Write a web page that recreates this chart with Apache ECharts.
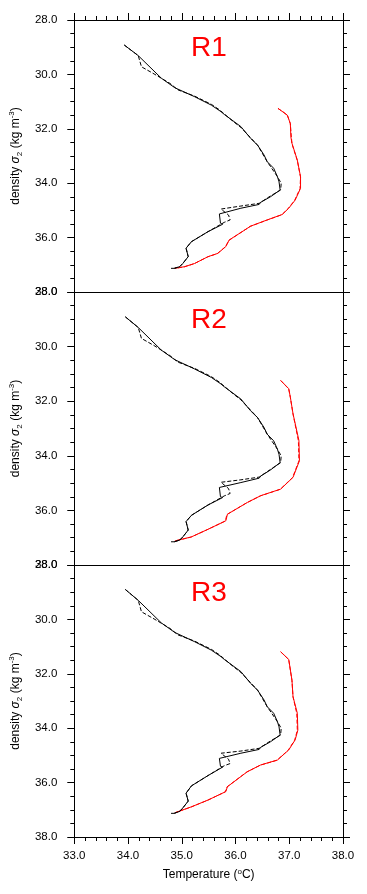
<!DOCTYPE html>
<html><head><meta charset="utf-8">
<script src="https://cdn.jsdelivr.net/npm/echarts@6/dist/echarts.min.js"></script>
<style>html,body{margin:0;padding:0;background:#fff}#c{width:367px;height:894px}</style>
</head><body><div id="c"></div>
<script>
// ---- data: [temperature (degC), density sigma2] ----
const regionNames = ['R1', 'R2', 'R3'];
const xTicks = [33, 34, 35, 36, 37, 38];
const yTicks = [28, 30, 32, 34, 36, 38];

const R1_black = [[33.93,28.92],[34.19,29.31],[34.62,30.14],[34.87,30.49],[35.24,30.82],[35.55,31.13],[35.73,31.37],[35.79,31.47],[36.10,31.92],[36.28,32.35],[36.41,32.60],[36.53,32.96],[36.59,33.21],[36.71,33.45],[36.78,33.76],[36.81,33.95],[36.83,34.25],[36.65,34.50],[36.47,34.70],[36.44,34.78],[36.10,34.92],[35.70,35.13],[35.72,35.47],[35.76,35.51],[35.49,35.78],[35.18,36.15],[35.08,36.39],[35.12,36.70],[35.02,36.95],[34.96,37.07],[34.86,37.13],[34.80,37.13]];
const R1_blackDash = [[33.93,28.92],[34.19,29.31],[34.25,29.72],[34.50,30.00],[34.78,30.33],[34.93,30.57],[35.24,30.80],[35.55,31.10],[35.70,31.30],[35.95,31.72],[36.10,31.95],[36.41,32.60],[36.59,33.21],[36.78,33.76],[36.85,34.00],[36.84,34.25],[36.65,34.47],[36.44,34.74],[36.10,34.84],[35.73,34.95],[35.87,35.17],[35.90,35.35],[35.79,35.44],[35.76,35.51],[35.49,35.78],[35.18,36.15],[35.08,36.39],[35.12,36.70],[35.02,36.95],[34.96,37.07],[34.86,37.13]];
const R1_red = [[36.79,31.25],[36.96,31.49],[37.02,31.80],[37.03,32.30],[37.05,32.53],[37.15,33.15],[37.21,33.76],[37.21,34.19],[37.11,34.62],[36.99,34.92],[36.87,35.15],[36.59,35.35],[36.28,35.58],[36.22,35.66],[35.88,36.09],[35.82,36.33],[35.67,36.58],[35.49,36.70],[35.24,36.95],[35.05,37.07],[34.87,37.13]];
const R1_redDash = [[36.79,31.25],[36.90,31.40],[36.97,31.52],[37.02,31.82],[37.05,32.55],[37.15,33.17],[37.21,33.78],[37.20,34.20],[37.10,34.63],[36.98,34.93],[36.86,35.16],[36.58,35.36],[36.27,35.59],[35.88,36.10],[35.81,36.34],[35.66,36.59],[35.48,36.71],[35.23,36.96],[35.04,37.08],[34.87,37.13]];

const R2_black = [[33.95,28.91],[34.19,29.30],[34.62,30.13],[34.87,30.48],[35.24,30.82],[35.55,31.13],[35.73,31.37],[35.79,31.47],[36.10,31.92],[36.28,32.35],[36.41,32.60],[36.53,32.96],[36.59,33.21],[36.71,33.45],[36.78,33.76],[36.81,33.95],[36.83,34.25],[36.65,34.52],[36.47,34.74],[36.44,34.82],[36.10,34.98],[35.70,35.16],[35.72,35.50],[35.76,35.53],[35.49,35.80],[35.18,36.18],[35.08,36.41],[35.12,36.72],[35.02,36.97],[34.96,37.09],[34.86,37.15],[34.80,37.15]];
const R2_blackDash = [[33.95,28.91],[34.19,29.30],[34.25,29.70],[34.50,29.98],[34.78,30.33],[34.93,30.57],[35.24,30.80],[35.55,31.10],[35.70,31.30],[35.95,31.72],[36.10,31.95],[36.41,32.60],[36.59,33.21],[36.78,33.76],[36.85,34.00],[36.84,34.25],[36.65,34.50],[36.44,34.78],[36.10,34.88],[35.73,34.97],[35.87,35.20],[35.90,35.38],[35.79,35.47],[35.76,35.53],[35.49,35.80],[35.18,36.18],[35.08,36.41],[35.12,36.72],[35.02,36.97],[34.96,37.09],[34.86,37.15]];
const R2_red = [[36.84,31.24],[36.99,31.54],[37.02,31.85],[37.07,32.46],[37.18,33.44],[37.19,34.18],[37.07,34.79],[36.84,35.22],[36.47,35.46],[36.22,35.71],[35.85,36.14],[35.82,36.38],[35.49,36.69],[35.18,36.97],[34.87,37.12]];
const R2_redDash = [[36.84,31.24],[36.99,31.55],[37.02,31.86],[37.07,32.47],[37.17,33.45],[37.18,34.19],[37.06,34.80],[36.83,35.23],[36.46,35.47],[36.21,35.72],[35.84,36.15],[35.81,36.39],[35.48,36.70],[35.17,36.98],[34.87,37.12]];

const R3_black = [[33.95,28.90],[34.19,29.30],[34.62,30.13],[34.87,30.48],[35.24,30.82],[35.55,31.13],[35.73,31.37],[35.79,31.47],[36.10,31.92],[36.28,32.35],[36.41,32.60],[36.53,32.96],[36.59,33.21],[36.71,33.45],[36.78,33.76],[36.81,33.95],[36.83,34.25],[36.65,34.50],[36.47,34.70],[36.44,34.78],[36.10,34.92],[35.70,35.11],[35.72,35.40],[35.76,35.43],[35.49,35.74],[35.18,36.12],[35.08,36.39],[35.12,36.68],[35.02,36.93],[34.96,37.06],[34.86,37.13],[34.80,37.13]];
const R3_blackDash = [[33.95,28.90],[34.19,29.30],[34.25,29.72],[34.50,30.00],[34.78,30.33],[34.93,30.57],[35.24,30.80],[35.55,31.10],[35.70,31.30],[35.95,31.72],[36.10,31.95],[36.41,32.60],[36.59,33.21],[36.78,33.76],[36.85,34.00],[36.84,34.25],[36.65,34.47],[36.44,34.74],[36.10,34.84],[35.73,34.92],[35.87,35.14],[35.90,35.30],[35.79,35.38],[35.76,35.43],[35.49,35.74],[35.18,36.12],[35.08,36.39],[35.12,36.68],[35.02,36.93],[34.96,37.06],[34.86,37.13]];
const R3_red = [[36.84,31.19],[36.99,31.47],[37.05,32.23],[37.07,32.84],[37.15,33.45],[37.16,34.07],[37.11,34.43],[36.99,34.80],[36.78,35.17],[36.47,35.35],[36.22,35.60],[35.85,36.15],[35.82,36.33],[35.49,36.64],[35.18,36.89],[34.87,37.11]];
const R3_redDash = [[36.84,31.19],[36.99,31.48],[37.05,32.24],[37.07,32.85],[37.14,33.46],[37.15,34.08],[37.10,34.44],[36.98,34.81],[36.77,35.18],[36.46,35.36],[36.21,35.61],[35.84,36.16],[35.81,36.34],[35.48,36.65],[35.17,36.90],[34.87,37.11]];

const regionData = [
  [R1_black, R1_blackDash, R1_red, R1_redDash],
  [R2_black, R2_blackDash, R2_red, R2_redDash],
  [R3_black, R3_blackDash, R3_red, R3_redDash]
];

// ---- layout ----
const FONT = 'Liberation Sans, Arial, Helvetica, sans-serif';
const grids = [
  {left: 72, top: 20, width: 271, height: 272},
  {left: 72, top: 292, width: 271, height: 273},
  {left: 72, top: 565, width: 271, height: 272}
];
const xMin = xTicks[0], xMax = xTicks[xTicks.length - 1];
const yMin = yTicks[0], yMax = yTicks[yTicks.length - 1];

const lineBlack = {show: true, lineStyle: {color: '#000', width: 1}};
const xAxes = [], yAxes = [], series = [];
grids.forEach((g, i) => {
  const last = i === grids.length - 1;
  xAxes.push({
    type: 'value', gridIndex: i, position: 'bottom', min: xMin, max: xMax, interval: 1,
    axisLine: lineBlack, splitLine: {show: false},
    axisTick: {show: last, length: 7, lineStyle: {color: '#000'}},
    minorTick: {show: last, splitNumber: 5, length: 4, lineStyle: {color: '#000'}},
    axisLabel: {show: last, margin: 13, fontSize: 11.5, color: '#000', fontFamily: FONT,
      formatter: v => v.toFixed(1)},
    name: last ? 'Temperature ({sup|o}C)' : '', nameLocation: 'middle', nameGap: 31,
    nameTextStyle: {fontSize: 12, color: '#000', fontFamily: FONT, lineHeight: 14,
      rich: {sup: {fontSize: 8, verticalAlign: 'top', lineHeight: 14, color: '#000', fontFamily: FONT, padding: [0, 0, 5, 0]}}}
  });
  xAxes.push({
    type: 'value', gridIndex: i, position: 'top', min: xMin, max: xMax, interval: 1,
    axisLine: lineBlack, splitLine: {show: false},
    axisTick: {show: i === 0, length: 7, lineStyle: {color: '#000'}},
    minorTick: {show: i === 0, splitNumber: 5, length: 4, lineStyle: {color: '#000'}},
    axisLabel: {show: false}
  });
  yAxes.push({
    type: 'value', gridIndex: i, position: 'left', inverse: true, min: yMin, max: yMax, interval: 2,
    axisLine: lineBlack, splitLine: {show: false},
    axisTick: {show: true, length: 7, lineStyle: {color: '#000'}},
    minorTick: {show: true, splitNumber: 4, length: 4, lineStyle: {color: '#000'}},
    axisLabel: {show: true, margin: 17, fontSize: 11.5, color: '#000', fontFamily: FONT,
      formatter: v => v.toFixed(1)},
    name: 'density {it|σ}{sub|2} (kg m{sup|-3})', nameLocation: 'middle', nameGap: 43, nameRotate: 90,
    nameTextStyle: {fontSize: 12, color: '#000', fontFamily: FONT, lineHeight: 16,
      rich: {
        it: {fontSize: 12, fontStyle: 'italic', color: '#000', fontFamily: FONT, lineHeight: 16},
        sub: {fontSize: 8, verticalAlign: 'bottom', lineHeight: 16, color: '#000', fontFamily: FONT},
        sup: {fontSize: 8, verticalAlign: 'top', lineHeight: 16, color: '#000', fontFamily: FONT}
      }}
  });
  yAxes.push({
    type: 'value', gridIndex: i, position: 'right', inverse: true, min: yMin, max: yMax, interval: 2,
    axisLine: lineBlack, splitLine: {show: false},
    axisTick: {show: true, length: 7, lineStyle: {color: '#000'}},
    minorTick: {show: true, splitNumber: 4, length: 4, lineStyle: {color: '#000'}},
    axisLabel: {show: false}
  });
  const d = regionData[i];
  const styles = [
    {color: '#000', type: 'solid'},
    {color: '#000', type: [4, 2]},
    {color: '#ff0000', type: 'solid'},
    {color: '#ff0000', type: [4, 2]}
  ];
  d.forEach((arr, k) => {
    series.push({
      type: 'line', xAxisIndex: 2 * i, yAxisIndex: 2 * i, data: arr,
      showSymbol: false, symbol: 'none', silent: true, animation: false,
      lineStyle: {color: styles[k].color, width: 1, type: styles[k].type}, z: 3 - Math.floor(k / 2)
    });
  });
});

const graphics = grids.map((g, i) => ({
  type: 'text', x: 209, y: g.top + 28,
  style: {text: regionNames[i], fill: '#ff0000', font: '28px ' + FONT, align: 'center', verticalAlign: 'middle'}
}));

const chart = echarts.init(document.getElementById('c'), null, {renderer: 'canvas'});
chart.setOption({
  animation: false,
  backgroundColor: '#fff',
  grid: grids.map(g => Object.assign({containLabel: false}, g)),
  xAxis: xAxes,
  yAxis: yAxes,
  series: series,
  graphic: graphics
});
</script>
</body></html>
